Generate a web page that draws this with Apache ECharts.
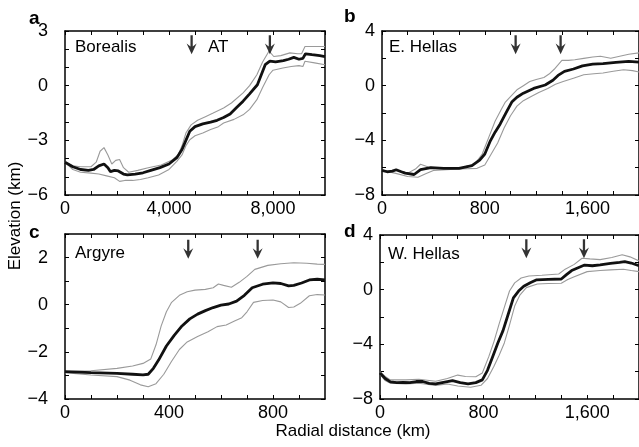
<!DOCTYPE html>
<html><head><meta charset="utf-8">
<script src="https://cdn.jsdelivr.net/npm/echarts@6/dist/echarts.min.js"></script>
<style>html,body{margin:0;padding:0;background:#fff}#c{width:639px;height:447px}</style>
</head><body><div id="c"></div>
<script>
// ---- Data (km, elevation km) ----
const panelNames = ['Borealis', 'E. Hellas', 'Argyre', 'W. Hellas'];
const panelLetters = ['a', 'b', 'c', 'd'];

const borealisMean = [[0,-4.2],[300,-4.45],[600,-4.6],[900,-4.65],[1100,-4.6],[1300,-4.4],[1500,-4.3],[1650,-4.5],[1750,-4.72],[1900,-4.65],[2050,-4.68],[2250,-4.85],[2400,-4.9],[2700,-4.85],[3000,-4.78],[3300,-4.65],[3650,-4.5],[4000,-4.3],[4300,-3.95],[4500,-3.5],[4650,-3.0],[4800,-2.5],[5000,-2.25],[5300,-2.1],[5600,-2.0],[5850,-1.9],[6100,-1.75],[6350,-1.55],[6600,-1.2],[6850,-0.85],[7100,-0.45],[7400,0.05],[7550,0.6],[7700,1.15],[7880,1.35],[8100,1.3],[8400,1.37],[8600,1.45],[8800,1.55],[9000,1.45],[9150,1.5],[9250,1.75],[9500,1.7],[9800,1.65],[10000,1.6]];
const borealisUpper = [[0,-4.2],[300,-4.4],[600,-4.45],[1000,-4.45],[1200,-4.2],[1350,-3.6],[1500,-3.4],[1650,-3.8],[1800,-4.3],[1950,-4.1],[2100,-4.05],[2250,-4.5],[2450,-4.75],[2800,-4.65],[3200,-4.5],[3700,-4.35],[4100,-4.1],[4350,-3.8],[4500,-3.3],[4650,-2.6],[4850,-2.15],[5100,-1.9],[5400,-1.7],[5700,-1.5],[6100,-1.23],[6400,-0.95],[6850,-0.4],[7100,0.0],[7380,0.6],[7600,1.3],[7850,1.9],[8030,1.6],[8300,1.65],[8650,1.8],[8950,1.75],[9100,1.75],[9230,2.15],[9500,2.15],[10000,2.15]];
const borealisLower = [[0,-4.2],[300,-4.6],[600,-4.75],[1000,-4.8],[1300,-4.85],[1600,-4.95],[1900,-5.05],[2100,-5.25],[2300,-5.2],[2600,-5.2],[2900,-5.15],[3200,-5.05],[3600,-4.9],[4000,-4.6],[4300,-4.15],[4500,-3.8],[4650,-3.3],[4800,-2.97],[5000,-2.75],[5300,-2.6],[5600,-2.4],[5900,-2.25],[6100,-2.05],[6500,-1.85],[6850,-1.6],[7100,-1.3],[7380,-0.77],[7600,-0.1],[7850,0.6],[8000,0.85],[8380,0.97],[8700,1.05],[9000,1.1],[9150,1.05],[9230,1.34],[9600,1.25],[10000,1.15]];

const eHellasMean = [[0,-6.2],[40,-6.3],[80,-6.25],[110,-6.15],[150,-6.3],[180,-6.4],[250,-6.5],[300,-6.15],[380,-6.0],[480,-6.05],[600,-6.05],[700,-5.85],[760,-5.45],[800,-5.0],[840,-4.1],[880,-3.4],[920,-2.8],[970,-1.9],[1010,-1.2],[1050,-0.85],[1100,-0.55],[1180,-0.2],[1270,0.05],[1330,0.4],[1370,0.75],[1420,1.05],[1490,1.22],[1560,1.45],[1640,1.58],[1720,1.62],[1820,1.7],[1920,1.78],[2000,1.72]];
const eHellasUpper = [[0,-6.2],[60,-6.25],[120,-6.2],[200,-6.4],[260,-6.1],[300,-5.75],[360,-5.95],[450,-6.05],[600,-6.05],[720,-5.75],[780,-5.0],[830,-3.8],[880,-2.6],[930,-1.7],[960,-1.2],[1000,-0.8],[1050,-0.3],[1100,0.0],[1150,0.3],[1200,0.45],[1260,0.6],[1300,0.85],[1340,1.2],[1400,1.85],[1450,1.85],[1500,1.9],[1570,2.0],[1640,2.1],[1700,2.15],[1780,2.0],[1850,2.15],[1920,2.3],[2000,2.4]];
const eHellasLower = [[0,-6.2],[100,-6.4],[200,-6.65],[280,-6.7],[340,-6.45],[400,-6.2],[500,-6.15],[600,-6.1],[740,-6.05],[800,-5.8],[850,-5.0],[900,-4.2],[950,-3.1],[1000,-2.2],[1050,-1.5],[1100,-1.1],[1150,-0.85],[1220,-0.5],[1290,-0.2],[1350,0.1],[1410,0.3],[1490,0.55],[1570,0.8],[1650,0.87],[1720,0.93],[1800,1.05],[1880,1.17],[1950,1.1],[2000,1.0]];

const argyreMean = [[0,-2.84],[100,-2.88],[200,-2.91],[260,-2.95],[300,-2.98],[320,-2.95],[340,-2.7],[360,-2.35],[390,-1.75],[420,-1.3],[450,-0.9],[480,-0.6],[510,-0.4],[540,-0.25],[570,-0.12],[600,-0.02],[630,0.03],[660,0.15],[690,0.4],[720,0.72],[760,0.87],[800,0.93],[830,0.9],[860,0.8],[880,0.82],[910,0.92],[940,1.05],[970,1.08],[1000,1.05]];
const argyreUpper = [[0,-2.84],[100,-2.8],[200,-2.7],[260,-2.6],[300,-2.49],[330,-2.3],[350,-1.7],[370,-0.9],[390,-0.3],[410,0.1],[440,0.4],[470,0.55],[500,0.62],[540,0.65],[570,0.72],[590,0.88],[610,0.82],[640,0.74],[670,0.95],[700,1.2],[730,1.5],[780,1.67],[830,1.74],[880,1.78],[930,1.76],[970,1.72],[1000,1.71]];
const argyreLower = [[0,-2.88],[100,-2.98],[200,-3.05],[250,-3.2],[290,-3.4],[320,-3.48],[350,-3.35],[380,-2.95],[410,-2.4],[440,-1.9],[470,-1.58],[510,-1.35],[550,-1.15],[585,-0.93],[620,-0.86],[650,-0.7],[680,-0.55],[700,-0.3],[725,0.1],[760,0.18],[800,0.2],[830,0.12],[860,-0.12],[880,-0.1],[905,0.06],[940,0.38],[970,0.43],[1000,0.41]];

const wHellasMean = [[0,-6.1],[40,-6.5],[80,-6.75],[130,-6.8],[180,-6.78],[230,-6.8],[280,-6.72],[330,-6.72],[380,-6.85],[430,-6.9],[480,-6.8],[560,-6.65],[620,-6.8],[680,-6.9],[740,-6.8],[790,-6.6],[830,-5.9],[870,-4.9],[910,-3.9],[950,-3.0],[990,-1.8],[1030,-0.6],[1070,-0.1],[1110,0.25],[1160,0.5],[1210,0.72],[1300,0.75],[1400,0.78],[1440,1.1],[1480,1.4],[1530,1.6],[1580,1.8],[1640,1.75],[1700,1.82],[1780,1.92],[1850,2.0],[1890,2.05],[1940,1.95],[2000,1.75]];
const wHellasUpper = [[0,-6.0],[40,-6.35],[80,-6.6],[200,-6.6],[300,-6.55],[430,-6.7],[520,-6.5],[600,-6.25],[660,-6.35],[740,-6.37],[790,-6.1],[840,-4.9],[880,-3.8],[920,-2.5],[960,-1.3],[1000,-0.1],[1040,0.5],[1090,0.85],[1150,1.0],[1250,1.05],[1380,1.15],[1430,1.5],[1500,1.85],[1560,2.3],[1620,2.25],[1700,2.2],[1790,2.35],[1870,2.55],[1930,2.4],[2000,2.1]];
const wHellasLower = [[0,-6.2],[40,-6.65],[80,-6.85],[200,-6.9],[300,-6.85],[430,-7.0],[520,-6.9],[600,-7.05],[700,-7.14],[780,-7.0],[830,-6.5],[880,-5.6],[920,-4.8],[960,-3.9],[1000,-2.6],[1040,-1.2],[1080,-0.4],[1130,0.15],[1215,0.42],[1300,0.45],[1400,0.47],[1450,0.75],[1500,0.95],[1600,1.32],[1700,1.4],[1780,1.45],[1880,1.49],[1940,1.4],[2000,1.32]];

// Arrow markers (x position in km, y position in km)
const borealisArrows = [[4870, 2.25],[7880, 2.25]];
const eHellasArrows = [[1040, 3.0],[1390, 3.0]];
const argyreArrows = [[474, 2.35],[741, 2.35]];
const wHellasArrows = [[1130, 3.0],[1575, 3.0]];

// Axis ranges / ticks
const xRanges = [[0,10000,1000,4000],[0,2000,200,800],[0,1000,100,400],[0,2000,200,800]];
const yRanges = [[-6,3,1,3],[-8,4,2,4],[-4,3,1,2],[-8,4,2,4]];

// ---- Layout ----
const FONT = "'Liberation Sans', Arial, Helvetica, sans-serif";
const grids = [
  {left:65, top:31, width:260, height:164},
  {left:382, top:31, width:259, height:164},
  {left:65, top:234, width:260, height:165},
  {left:380, top:235, width:260, height:164}
];
const fmt = v => {
  const s = Math.abs(v).toLocaleString('en-US');
  return v < 0 ? '\u2212' + s : s;
};
const xAxes = [], yAxes = [];
grids.forEach((g, i) => {
  const [x0,x1,xs,xl] = xRanges[i];
  const [y0,y1,ys,yl] = yRanges[i];
  const base = {
    type:'value', gridIndex:i, splitLine:{show:false},
    axisLine:{show:true, onZero:false, lineStyle:{color:'#000', width:1.5}},
    axisTick:{show:true, inside:true, length:4, lineStyle:{color:'#000', width:1}}
  };
  xAxes.push(Object.assign({}, base, {position:'bottom', min:x0, max:x1, interval:xs,
    axisLabel:{show:true, margin:5, color:'#000', fontSize:18, fontFamily:FONT, showMaxLabel:false,
      formatter: v => (Math.abs(v % xl) < 1e-6 ? fmt(v) : '')}}));
  xAxes.push(Object.assign({}, base, {position:'top', min:x0, max:x1, interval:xs, axisLabel:{show:false}}));
  yAxes.push(Object.assign({}, base, {position:'left', min:y0, max:y1, interval:ys,
    axisLabel:{show:true, margin:(i%2===0 ? 17 : 7), color:'#000', fontSize:18, fontFamily:FONT,
      formatter: v => (Math.abs(v % yl) < 1e-6 ? fmt(v) : '')}}));
  yAxes.push(Object.assign({}, base, {position:'right', min:y0, max:y1, interval:ys, axisLabel:{show:false}}));
});

const panels = [
  [borealisMean, borealisUpper, borealisLower, borealisArrows],
  [eHellasMean, eHellasUpper, eHellasLower, eHellasArrows],
  [argyreMean, argyreUpper, argyreLower, argyreArrows],
  [wHellasMean, wHellasUpper, wHellasLower, wHellasArrows]
];
const ARROW = 'path://M3.9,0H6.1V12L9.8,8.8L5,20L0.2,8.8L3.9,12Z';
const series = [];
panels.forEach((p, i) => {
  const ax = {xAxisIndex:i*2, yAxisIndex:i*2};
  [p[1], p[2]].forEach(d => series.push(Object.assign({type:'line', data:d, showSymbol:false, symbol:'none',
    lineStyle:{color:'#9a9a9a', width:1.1}, silent:true, animation:false, z:2}, ax)));
  series.push(Object.assign({type:'line', data:p[0], showSymbol:false, symbol:'none',
    lineStyle:{color:'#111', width:2.8}, silent:true, animation:false, z:3}, ax));
  series.push(Object.assign({type:'scatter', data:p[3], symbol:ARROW, symbolSize:[10,19],
    itemStyle:{color:'#000'}, silent:true, animation:false, z:4}, ax));
});

const txt = (x, y, t, opts) => ({type:'text', left:x, top:y, style:Object.assign({text:t, fill:'#000', font:'17px ' + FONT}, opts||{})});
const graphic = [
  txt(75, 39, panelNames[0]), txt(389, 39, panelNames[1]), txt(75, 245, panelNames[2]), txt(388, 246, panelNames[3]),
  txt(208, 39, 'AT'),
  txt(29, 9, panelLetters[0], {font:'bold 19px ' + FONT}),
  txt(344, 7, panelLetters[1], {font:'bold 19px ' + FONT}),
  txt(29, 223, panelLetters[2], {font:'bold 19px ' + FONT}),
  txt(344, 222, panelLetters[3], {font:'bold 19px ' + FONT}),
  {type:'text', x:15, y:216, rotation:Math.PI/2, style:{text:'Elevation (km)', fill:'#000', font:'17px ' + FONT, textAlign:'center', textVerticalAlign:'middle'}},
  {type:'text', x:353, y:431, style:{text:'Radial distance (km)', fill:'#000', font:'17px ' + FONT, textAlign:'center', textVerticalAlign:'middle'}}
];

const chart = echarts.init(document.getElementById('c'), null, {renderer:'canvas'});
chart.setOption({animation:false, grid:grids, xAxis:xAxes, yAxis:yAxes, series:series, graphic:graphic});
</script></body></html>
